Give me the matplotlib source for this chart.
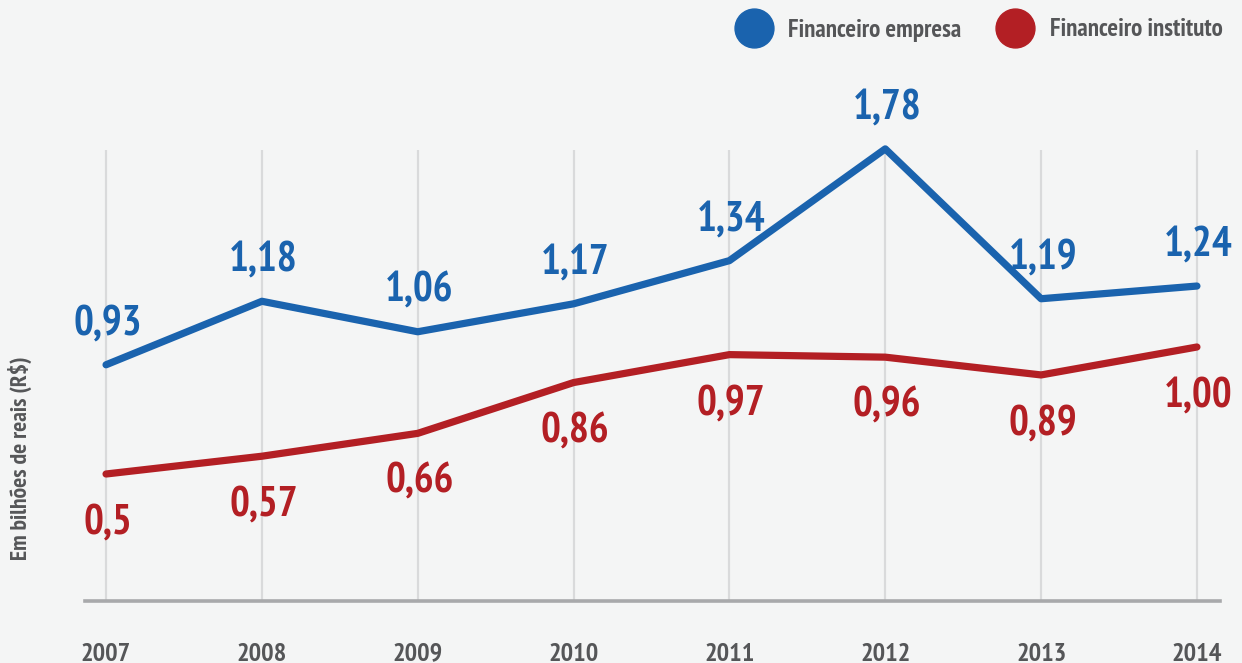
import matplotlib
matplotlib.use("Agg")
import matplotlib.pyplot as plt
from matplotlib.lines import Line2D

years = [2007, 2008, 2009, 2010, 2011, 2012, 2013, 2014]
empresa = [0.93, 1.18, 1.06, 1.17, 1.34, 1.78, 1.19, 1.24]
instituto = [0.50, 0.57, 0.66, 0.86, 0.97, 0.96, 0.89, 1.00]
empresa_labels = ["0,93", "1,18", "1,06", "1,17", "1,34", "1,78", "1,19", "1,24"]
instituto_labels = ["0,5", "0,57", "0,66", "0,86", "0,97", "0,96", "0,89", "1,00"]

BLUE = "#1a63ae"
RED = "#b31f24"
GRAY_TXT = "#555658"
BG = "#f4f5f5"
FONT = ["PT Sans Narrow", "DejaVu Sans"]

plt.rcParams["font.family"] = FONT
plt.rcParams["font.weight"] = "bold"

W, H = 1242, 663
fig = plt.figure(figsize=(W / 100, H / 100), dpi=100, facecolor=BG)
ax = fig.add_axes([85 / W, (H - 601) / H, (1220 - 85) / W, (601 - 100) / H])
ax.set_facecolor(BG)

ax.set_xlim(2006.865, 2014.148)
ax.set_ylim(0, (601 - 100) / 254)

# linhas verticais de grade
ax.vlines(years, 0, 1.775, color="#d9dadb", lw=1.6, zorder=1)
ax.axhline(0, color="#a8a9ab", lw=2.6, zorder=2, clip_on=False)

ax.plot(years, empresa, color=BLUE, lw=5.2, solid_joinstyle="round",
        solid_capstyle="round", zorder=3)
ax.plot(years, instituto, color=RED, lw=5.2, solid_joinstyle="round",
        solid_capstyle="round", zorder=3)

off = 41 / 254
for x, v, lab in zip(years, empresa, empresa_labels):
    ax.text(x + 0.01, v + off, lab, color=BLUE, fontsize=30, fontweight="bold",
            ha="center", va="center")
for x, v, lab in zip(years, instituto, instituto_labels):
    ax.text(x + 0.01, v - off - 8 / 254, lab, color=RED, fontsize=30, fontweight="bold",
            ha="center", va="center")

ax.set_xticks(years)
ax.set_xticklabels([str(y) for y in years], fontsize=19, fontweight="bold", color=GRAY_TXT)
ax.tick_params(axis="x", length=0, pad=30)
ax.set_yticks([])
for s in ax.spines.values():
    s.set_visible(False)

fig.text(20 / W, 1 - 458 / H, "Em bilhões de reais (R$)", rotation=90,
         fontsize=17, fontweight="bold", color=GRAY_TXT, ha="center", va="center")

# legenda
handles = [
    Line2D([], [], marker="o", ls="none", ms=28, color=BLUE, label="Financeiro empresa"),
    Line2D([], [], marker="o", ls="none", ms=28, color=RED, label="Financeiro instituto"),
]
fig.legend(handles=handles, loc="center right", bbox_to_anchor=(1245 / W, 1 - 30 / H),
           ncol=2, frameon=False, handletextpad=0.78, columnspacing=1.55,
           prop={"family": FONT, "weight": "bold", "size": 18}, labelcolor=GRAY_TXT,
           handlelength=1.2)

fig.savefig("out.png", dpi=100, facecolor=BG)
